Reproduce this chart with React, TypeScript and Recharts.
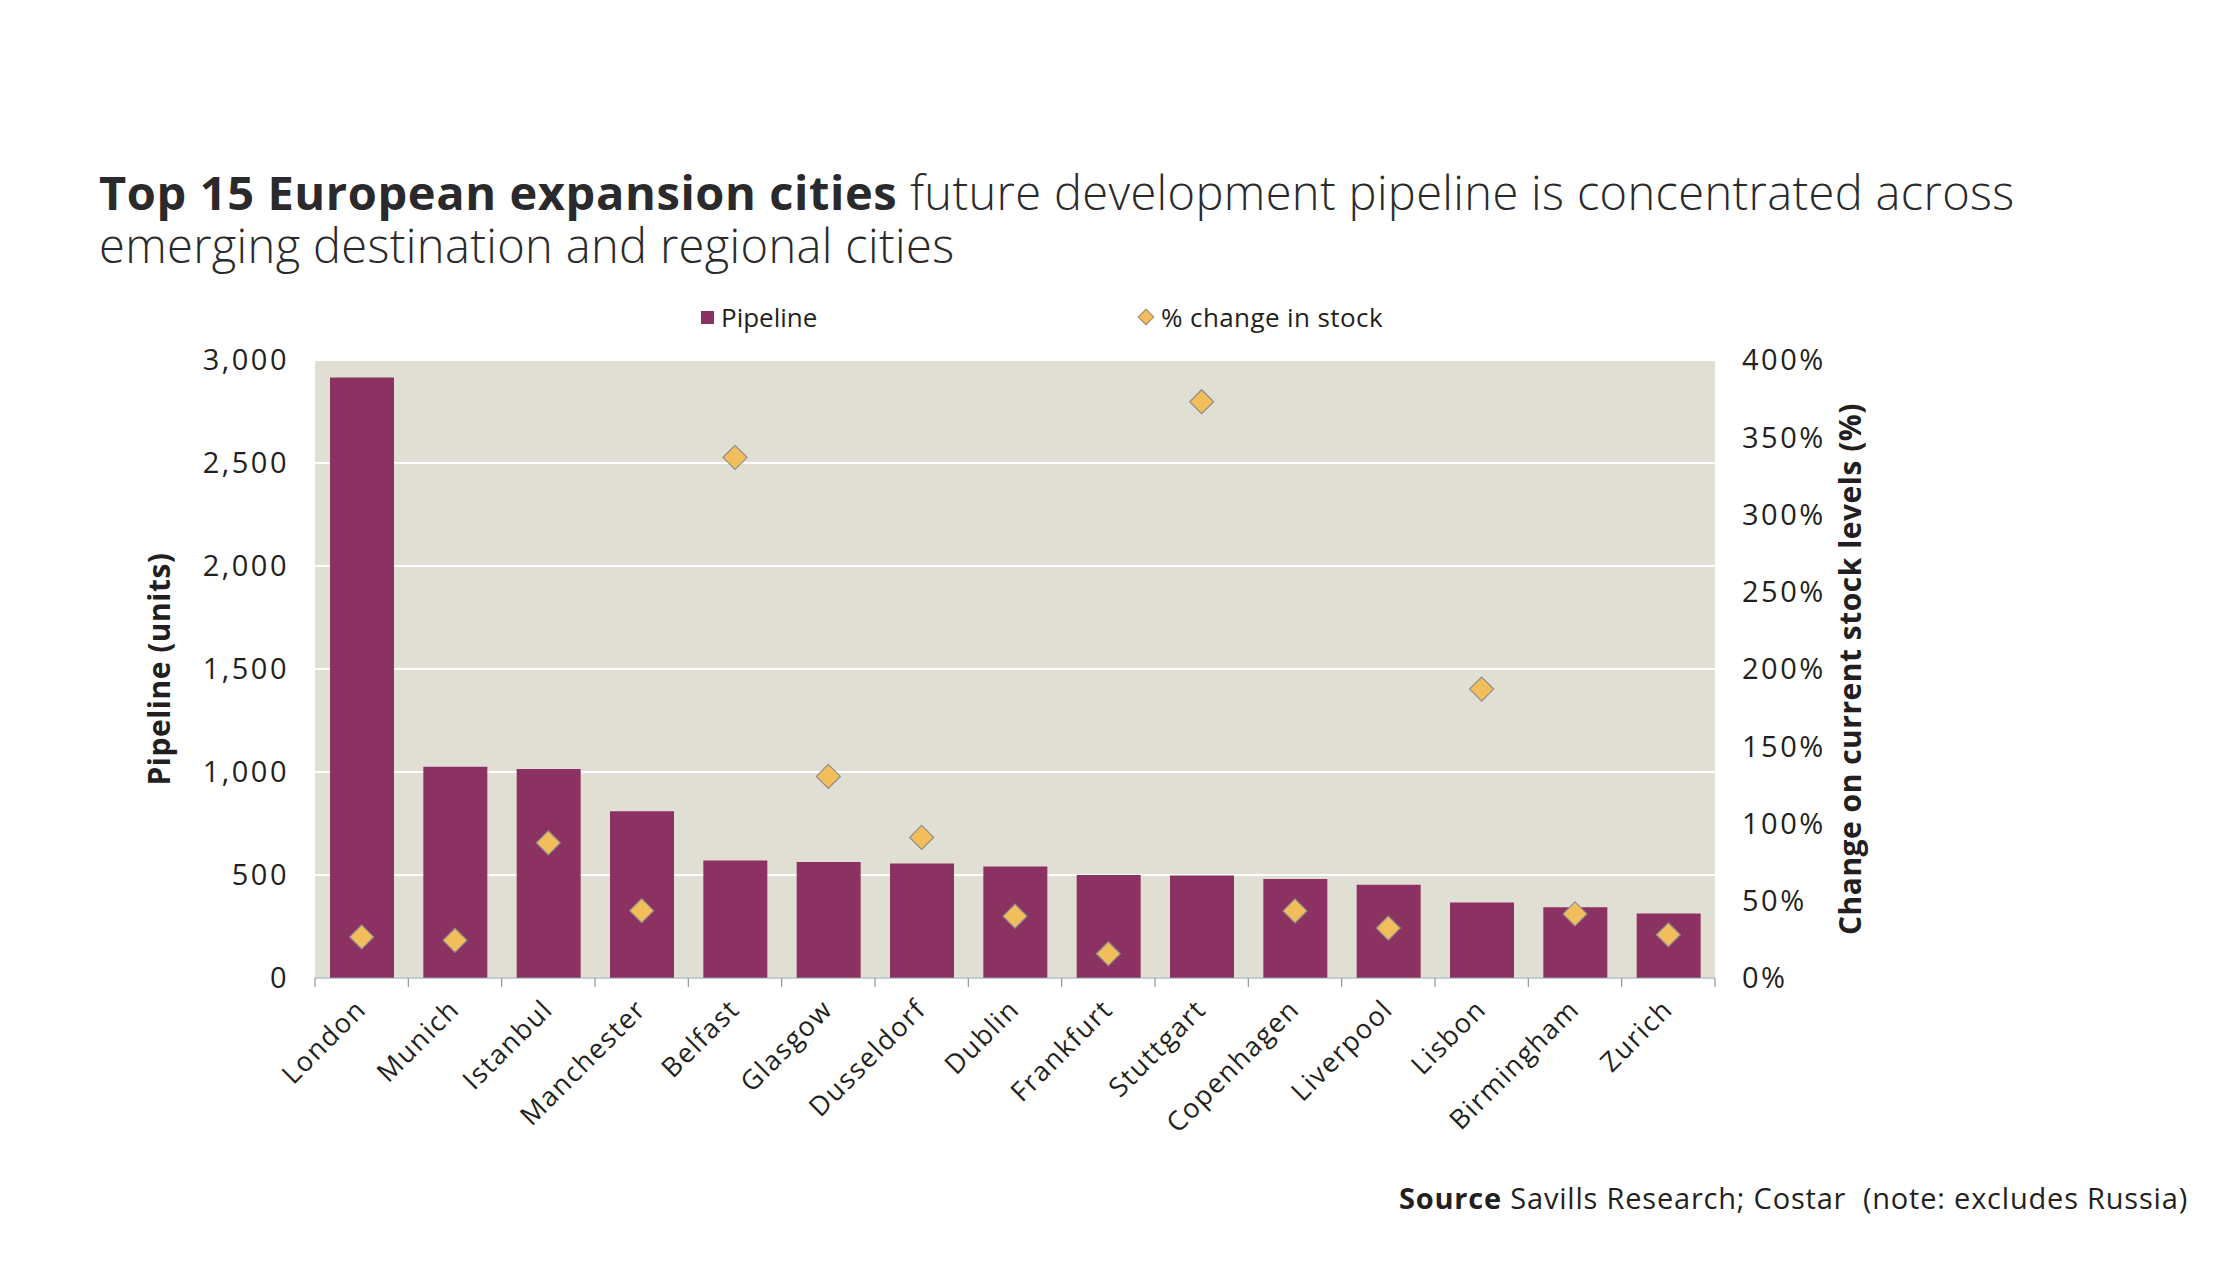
import {
  ComposedChart,
  Bar,
  Scatter,
  XAxis,
  YAxis,
  CartesianGrid,
} from "recharts";

const cities = [
  "London",
  "Munich",
  "Istanbul",
  "Manchester",
  "Belfast",
  "Glasgow",
  "Dusseldorf",
  "Dublin",
  "Frankfurt",
  "Stuttgart",
  "Copenhagen",
  "Liverpool",
  "Lisbon",
  "Birmingham",
  "Zurich",
];
const pipeline = [2915, 1025, 1015, 810, 570, 563, 556, 541, 500, 497, 480, 453, 366, 343, 313];
const stockChange = [26.6, 24.4, 87.5, 43.6, 337, 130.5, 91, 40, 15.7, 373, 43.4, 32.3, 187, 41.5, 28];

const pipelineTicks = [0, 500, 1000, 1500, 2000, 2500, 3000];
const changeTicks = [0, 50, 100, 150, 200, 250, 300, 350, 400];

const data = cities.map((city, i) => ({
  city,
  pipeline: pipeline[i],
  change: stockChange[i],
}));

const FONT = "'Open Sans', 'Noto Sans', sans-serif";
const TEXT = "#231f20";
const BAR = "#8b3263";
const DIAMOND = "#f2bd5b";

function Diamond(props: any) {
  const { cx, cy } = props;
  if (cx == null || cy == null) return null;
  const r = 12;
  return (
    <polygon
      points={`${cx},${cy - r} ${cx + r},${cy} ${cx},${cy + r} ${cx - r},${cy}`}
      fill={DIAMOND}
      stroke="#8d8d8d"
      strokeWidth={1.2}
    />
  );
}

function CityTick(props: any) {
  const { x, y, payload, index, visibleTicksCount } = props;
  const half = payload?.offset || 1400 / cities.length / 2;
  const left = x - half;
  const tx = x + 6;
  const ty = y + 33;
  return (
    <g>
      <line x1={left} y1={y} x2={left} y2={y + 9} stroke="#8a9aa6" strokeWidth={1.2} />
      {index === visibleTicksCount - 1 && (
        <line x1={x + half} y1={y} x2={x + half} y2={y + 9} stroke="#8a9aa6" strokeWidth={1.2} />
      )}
      <text
        x={tx}
        y={ty}
        textAnchor="end"
        transform={`rotate(-45, ${tx}, ${ty})`}
        fontSize={27}
        letterSpacing={1.5}
        fontFamily={FONT}
        fill={TEXT}
      >
        {payload.value}
      </text>
    </g>
  );
}

export default function App() {
  return (
    <div
      style={{
        position: "absolute",
        left: 0,
        top: 0,
        width: 2228,
        height: 1288,
        background: "#fff",
        fontFamily: FONT,
        color: TEXT,
      }}
    >
      {/* Title, two lines */}
      <div
        style={{
          position: "absolute",
          left: 99,
          top: 169,
          fontSize: 47,
          lineHeight: "47px",
          whiteSpace: "pre",
          color: "#2a2a2c",
        }}
      >
        <span style={{ fontWeight: 700, letterSpacing: 0.6 }}>Top 15 European expansion cities</span>
        <span style={{ fontWeight: 300, letterSpacing: 0.35 }}> future development pipeline is concentrated across</span>
      </div>
      <div
        style={{
          position: "absolute",
          left: 99,
          top: 222,
          fontSize: 47,
          lineHeight: "47px",
          whiteSpace: "pre",
          fontWeight: 300,
          letterSpacing: 0.35,
          color: "#2a2a2c",
        }}
      >
        emerging destination and regional cities
      </div>

      {/* Legend */}
      <div style={{ position: "absolute", left: 701, top: 299, fontSize: 26, display: "flex", alignItems: "center" }}>
        <span style={{ width: 13, height: 13, background: BAR, display: "inline-block", marginRight: 7 }} />
        <span>Pipeline</span>
      </div>
      <div
        style={{
          position: "absolute",
          left: 1140,
          top: 299,
          fontSize: 26,
          letterSpacing: 0.4,
          display: "flex",
          alignItems: "center",
        }}
      >
        <span
          style={{
            width: 10,
            height: 10,
            background: DIAMOND,
            border: "1px solid #8d8d8d",
            transform: "rotate(45deg)",
            display: "inline-block",
            marginRight: 9,
          }}
        />
        <span>% change in stock</span>
      </div>

      <div style={{ position: "absolute", left: 0, top: 0 }}>
        <ComposedChart
          width={2228}
          height={1288}
          data={data}
          margin={{ top: 360, right: 433, bottom: 250, left: 235 }}
        >
          <CartesianGrid
            yAxisId="left"
            vertical={false}
            horizontal={true}
            stroke="#ffffff"
            strokeWidth={2}
            fill="#e1dfd3"
          />
          <XAxis
            dataKey="city"
            interval={0}
            height={60}
            tickLine={false}
            tickSize={0}
            tickMargin={0}
            axisLine={{ stroke: "#8a9aa6", strokeWidth: 1.2 }}
            tick={<CityTick />}
          />
          <YAxis
            yAxisId="left"
            width={80}
            domain={[0, 3000]}
            ticks={pipelineTicks}
            tickFormatter={(v: number) => v.toLocaleString("en-US")}
            axisLine={false}
            tickLine={false}
            tickSize={0}
            tickMargin={26}
            tick={{ fontSize: 29, fill: TEXT, fontFamily: FONT, letterSpacing: 2.5 }}
            label={{
              value: "Pipeline (units)",
              angle: -90,
              position: "center",
              dx: -116,
              style: { fontSize: 30, fontWeight: 700, fill: TEXT, fontFamily: FONT, letterSpacing: 0.5 },
            }}
          />
          <YAxis
            yAxisId="right"
            orientation="right"
            width={80}
            domain={[0, 400]}
            ticks={changeTicks}
            tickFormatter={(v: number) => `${v}%`}
            axisLine={false}
            tickLine={false}
            tickSize={0}
            tickMargin={27}
            tick={{ fontSize: 29, fill: TEXT, fontFamily: FONT, letterSpacing: 2.5, textAnchor: "start" }}
            label={{
              value: "Change on current stock levels (%)",
              angle: -90,
              position: "center",
              dx: 95,
              style: { fontSize: 30, fontWeight: 700, fill: TEXT, fontFamily: FONT, letterSpacing: 0.5 },
            }}
          />
          <Bar yAxisId="left" dataKey="pipeline" fill={BAR} barSize={64} isAnimationActive={false} />
          <Scatter yAxisId="right" dataKey="change" shape={<Diamond />} isAnimationActive={false} />
        </ComposedChart>
      </div>

      {/* Source */}
      <div
        style={{
          position: "absolute",
          right: 40,
          top: 1178,
          fontSize: 29,
          letterSpacing: 0.8,
          whiteSpace: "pre",
        }}
      >
        <span style={{ fontWeight: 700 }}>Source</span>
        <span> Savills Research; Costar  (note: excludes Russia)</span>
      </div>
    </div>
  );
}
